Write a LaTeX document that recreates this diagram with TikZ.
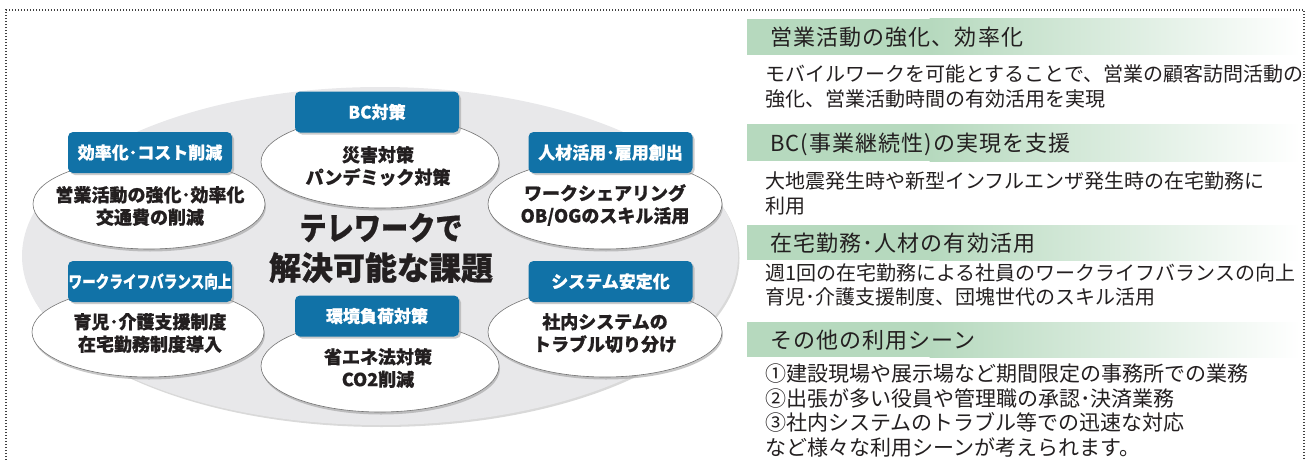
\documentclass[tikz,border=0pt]{standalone}
\usepackage{fontspec}
\usepackage{graphicx}
\setmainfont{Noto Sans CJK JP}
\newfontfamily\jp{Noto Sans CJK JP}
\newfontfamily\jpheavy[BoldFeatures={FakeBold=0.7}]{Noto Sans CJK JP}
\newfontfamily\jphd[LetterSpace=5]{Noto Sans CJK JP}
\usetikzlibrary{shapes.geometric,shadows}
\definecolor{bggray}{HTML}{E8E8EA}
\definecolor{boxblue}{HTML}{1172A7}
\definecolor{hdrgreen}{HTML}{B6D9BE}
\definecolor{txtblack}{HTML}{231F20}
\tikzset{
  border/.style={line width=1.1pt, black!75, dash pattern=on 1.1pt off 1.9pt},
  bigell/.style={ellipse, fill=bggray, inner sep=0pt, minimum width=716pt, minimum height=338pt,
     drop shadow={shadow xshift=1.5pt, shadow yshift=-2pt, fill=black!25, opacity=.6}},
  wellipse/.style={ellipse, fill=white, draw=black!55, line width=0.6pt, inner sep=0pt,
     minimum height=90pt,
     drop shadow={shadow xshift=1pt, shadow yshift=-2.5pt, fill=black!40, opacity=.55}},
  bluebox/.style={rectangle, fill=boxblue, rounded corners=5pt, inner sep=0pt,
     minimum width=164pt, minimum height=41pt, text=white,
     font=\jpheavy\bfseries\fontsize{17}{20}\selectfont,
     drop shadow={shadow xshift=2pt, shadow yshift=-2pt, fill=black!40, opacity=.5}},
  elltext/.style={align=center, inner sep=0pt, text=txtblack,
     font=\jpheavy\bfseries\fontsize{18}{22.5}\selectfont},
  titletext/.style={align=center, inner sep=0pt, text=txtblack,
     font=\jpheavy\bfseries\fontsize{32}{40}\selectfont},
  hdrtext/.style={anchor=base west, inner sep=0pt, text=txtblack,
     font=\jphd\fontsize{22}{26}\selectfont},
  bodytext/.style={anchor=base west, inner sep=0pt, text=txtblack,
     font=\jp\fontsize{20}{24}\selectfont},
  bodytextb/.style={bodytext, font=\jp\fontsize{21}{24}\selectfont},
}
\begin{document}
\begin{tikzpicture}[x=1pt,y=-1pt]
\useasboundingbox (0,0) rectangle (1309,460);
% dotted frame
\draw[border] (6,460) -- (6,10) -- (1304,10) -- (1304,460);

% ---------- left diagram ----------
\node[bigell] (bg) at (380,256) {};

\node[wellipse, minimum width=232pt] (e1) at (149,204) {};
\node[wellipse, minimum width=238pt, minimum height=92pt] (e2) at (380,162) {};
\node[wellipse, minimum width=234pt] (e3) at (605,204) {};
\node[wellipse, minimum width=232pt] (e4) at (148,332) {};
\node[wellipse, minimum width=238pt, minimum height=92pt] (e5) at (380,366) {};
\node[wellipse, minimum width=234pt] (e6) at (605,332) {};

\node[elltext] (t1) at (150,206) {営業活動の強化･効率化\\交通費の削減};
\node[elltext] (t2) at (378,166) {災害対策\\パンデミック対策};
\node[elltext] (t3) at (605,205) {ワークシェアリング\\OB/OGのスキル活用};
\node[elltext] (t4) at (150,333) {育児･介護支援制度\\在宅勤務制度導入};
\node[elltext] (t5) at (378,368) {省エネ法対策\\CO2削減};
\node[elltext] (t6) at (605,333) {社内システムの\\トラブル切り分け};

\node[bluebox] (b1) at (150,152.5) {効率化･コスト削減};
\node[bluebox] (b2) at (377,112) {BC対策};
\node[bluebox] (b3) at (610.5,152.5) {人材活用･雇用創出};
\node[bluebox] (b4) at (150,281.5) {\scalebox{0.8}[1]{ワークライフバランス向上}};
\node[bluebox] (b5) at (377,316) {環境負荷対策};
\node[bluebox] (b6) at (610.5,281.5) {システム安定化};

\node[titletext] (title) at (381,248) {\scalebox{0.85}[1]{テレワークで}\\解決可能な課題};

% ---------- right panel ----------
\foreach \ya/\yb [count=\i] in {19/55, 124/161, 225/260, 322/357}{
  \fill[hdrgreen] (747,\ya) rectangle (930,\yb);
  \fill[left color=hdrgreen, right color=white] (929.5,\ya) rectangle (1300,\yb);
}

\node[hdrtext] (h1) at (770,46) {営業活動の強化、効率化};
\node[bodytext] (l1a) at (765,81.5) {モバイルワークを可能とすることで、営業の顧客訪問活動の};
\node[bodytext] (l1b) at (765,106.5) {強化、営業活動時間の有効活用を実現};

\node[hdrtext] (h2) at (770,151) {BC(事業継続性)の実現を支援};
\node[bodytext] (l2a) at (765,188.5) {大地震発生時や新型インフルエンザ発生時の在宅勤務に};
\node[bodytext] (l2b) at (765,213.5) {利用};

\node[hdrtext] (h3) at (770,251) {在宅勤務･人材の有効活用};
\node[bodytext] (l3a) at (765,280.5) {週1回の在宅勤務による社員のワークライフバランスの向上};
\node[bodytext] (l3b) at (765,304.5) {育児･介護支援制度、団塊世代のスキル活用};

\node[hdrtext] (h4) at (770,348) {その他の利用シーン};
\node[bodytextb] (l4a) at (765,381.5) {①建設現場や展示場など期間限定の事務所での業務};
\node[bodytextb] (l4b) at (765,406) {②出張が多い役員や管理職の承認･決済業務};
\node[bodytextb] (l4c) at (765,430.5) {③社内システムのトラブル等での迅速な対応};
\node[bodytextb] (l4d) at (765,455) {など様々な利用シーンが考えられます。};
\end{tikzpicture}
\end{document}
